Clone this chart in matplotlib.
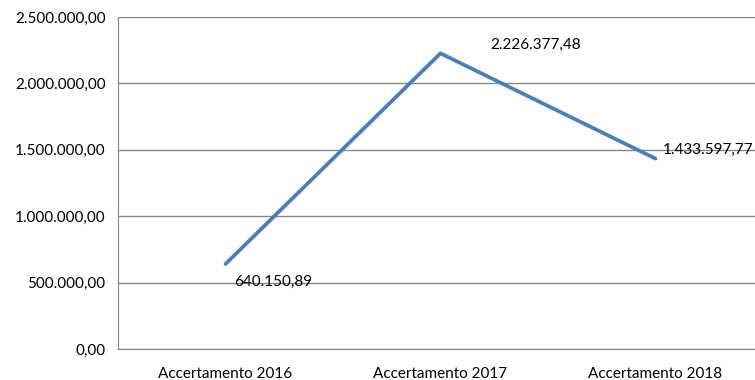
import matplotlib.pyplot as plt
from matplotlib.ticker import FuncFormatter, MultipleLocator

categorie = ['Accertamento 2016', 'Accertamento 2017', 'Accertamento 2018']
valori = [640150.89, 2226377.48, 1433597.77]

plt.rcParams['font.family'] = ['Lato', 'DejaVu Sans']


def formato_it(v, pos=None):
    s = f"{v:,.2f}"
    return s.replace(',', 'X').replace('.', ',').replace('X', '.')


fig = plt.figure(figsize=(7.55, 3.8), dpi=100)
ax = fig.add_axes([118 / 755, 1 - 349 / 380, 645 / 755, 332 / 380])

x = list(range(len(categorie)))
ax.plot(x, valori, color='#4A7EBB', linewidth=2.7, solid_capstyle='round', zorder=3)

ax.set_xlim(-0.5, 2.5)
ax.set_ylim(0, 2500000)
ax.yaxis.set_major_locator(MultipleLocator(500000))
ax.yaxis.set_major_formatter(FuncFormatter(formato_it))
ax.set_xticks(x)
ax.set_xticklabels(categorie)
ax.tick_params(axis='both', length=0, labelsize=11, colors='black')
ax.tick_params(axis='x', pad=13)
ax.tick_params(axis='y', pad=9)
ax.grid(axis='y', color='#868686', linewidth=1)
ax.set_axisbelow(True)
for lato in ['top', 'right']:
    ax.spines[lato].set_visible(False)
ax.spines['left'].set_color('#868686')
ax.spines['bottom'].set_color('#868686')

# etichette dei valori
offset = [(6, -13), (36, 6), (5, 6)]
for xi, v, (dx, dy) in zip(x, valori, offset):
    ax.annotate(formato_it(v), (xi, v), xytext=(dx, dy), textcoords='offset points',
                fontsize=11, ha='left', va='center', annotation_clip=False)

fig.savefig('out.png', dpi=100)
